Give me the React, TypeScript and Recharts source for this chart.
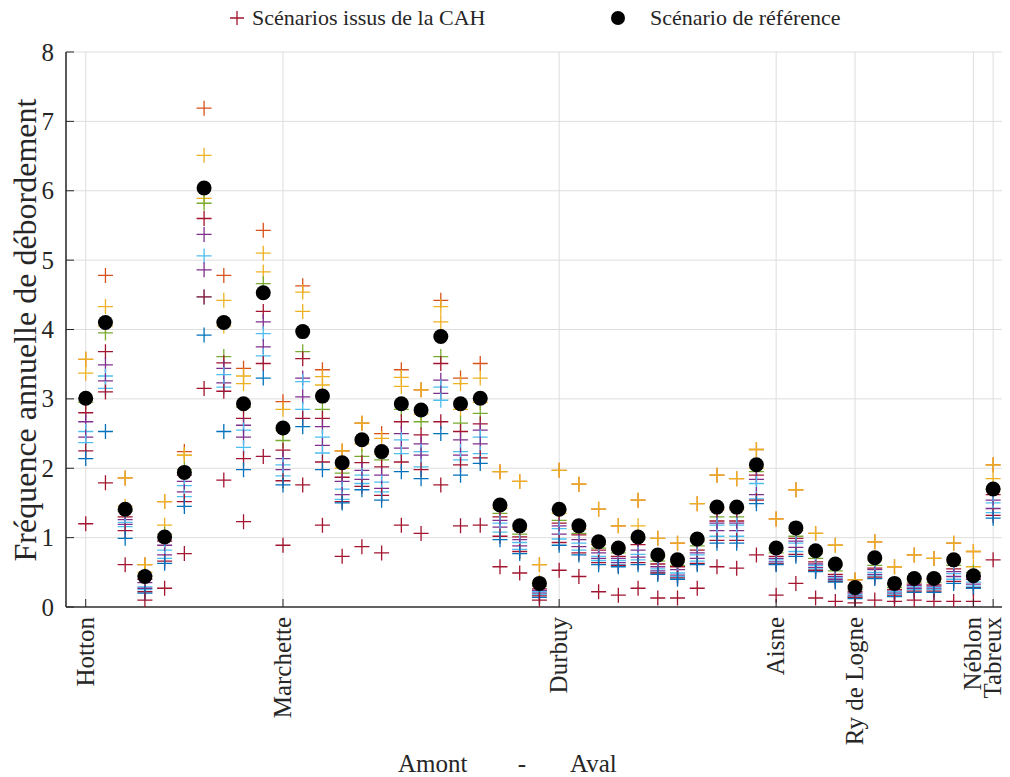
import { CartesianGrid, Scatter, ScatterChart, XAxis, YAxis } from "recharts"

const FONT = "'Liberation Serif', 'Times New Roman', serif"
const INK = "#262626"

// stations along the river, upstream -> downstream
const tickPositions = [1, 11, 25, 36, 40, 46, 47]
const tickLabels = ["Hotton", "Marchette", "Durbuy", "Aisne", "Ry de Logne", "Néblon", "Tabreux"]
const yTicks = [0, 1, 2, 3, 4, 5, 6, 7, 8]

// reference scenario (black dots)
const reference = [
  3.01, 4.10, 1.41, 0.44, 1.01, 1.94, 6.04, 4.10, 2.93, 4.53, 2.58, 3.97, 3.04, 2.08, 2.41, 2.24,
  2.93, 2.84, 3.90, 2.93, 3.01, 1.47, 1.17, 0.34, 1.41, 1.17, 0.94, 0.85, 1.01, 0.75, 0.68, 0.98,
  1.44, 1.44, 2.05, 0.85, 1.14, 0.81, 0.62, 0.28, 0.71, 0.34, 0.41, 0.41, 0.68, 0.45, 1.70,
]

// CAH scenarios (crosses)
const cah01 = [
  3.57, 4.78, 1.86, 0.61, 1.52, 2.24, 7.19, 4.78, 3.44, 5.43, 2.96, 4.63, 3.42, 2.25, 2.65, 2.50,
  3.42, 3.13, 4.42, 3.30, 3.51, 1.95, 1.81, 0.61, 1.97, 1.77, 1.41, 1.17, 1.54, 0.99, 0.92, 1.49,
  1.90, 1.85, 2.27, 1.27, 1.69, 1.06, 0.89, 0.39, 0.94, 0.58, 0.75, 0.70, 0.92, 0.80, 2.05,
]
const cah02 = [
  3.57, 4.33, 1.86, 0.61, 1.52, 2.19, 6.51, 4.42, 3.33, 5.10, 2.85, 4.54, 3.32, 2.25, 2.65, 2.43,
  3.31, 3.13, 4.33, 3.22, 3.30, 1.95, 1.81, 0.61, 1.97, 1.77, 1.41, 1.17, 1.54, 0.99, 0.92, 1.49,
  1.90, 1.85, 2.27, 1.27, 1.69, 1.06, 0.89, 0.39, 0.94, 0.58, 0.75, 0.70, 0.92, 0.80, 2.05,
]
const cah03 = [
  3.37, 4.05, 1.45, 0.50, 1.18, 2.19, 5.89, 4.05, 3.22, 4.83, 2.55, 4.26, 3.20, 2.00, 2.35, 2.20,
  3.18, 2.78, 4.11, 2.85, 2.95, 1.42, 1.12, 0.36, 1.35, 1.12, 0.90, 0.82, 1.17, 0.72, 0.65, 0.95,
  1.40, 1.40, 2.00, 0.82, 1.10, 0.78, 0.60, 0.30, 0.68, 0.33, 0.40, 0.40, 0.66, 0.58, 1.85,
]
const cah04 = [
  2.95, 3.95, 1.38, 0.45, 1.05, 1.98, 5.82, 3.61, 2.88, 4.66, 2.40, 3.68, 2.85, 1.93, 2.17, 2.12,
  2.85, 2.67, 3.61, 2.65, 2.79, 1.35, 1.05, 0.30, 1.25, 1.06, 0.85, 0.78, 0.98, 0.66, 0.60, 0.88,
  1.30, 1.30, 1.95, 0.78, 1.02, 0.70, 0.52, 0.25, 0.60, 0.28, 0.36, 0.35, 0.60, 0.50, 1.70,
]
const cah05 = [
  2.80, 3.68, 1.30, 0.40, 0.95, 1.90, 5.60, 3.52, 2.72, 4.26, 2.26, 3.58, 2.72, 1.87, 2.08, 2.02,
  2.67, 2.48, 3.51, 2.53, 2.64, 1.30, 1.01, 0.26, 1.21, 1.04, 0.82, 0.73, 0.90, 0.62, 0.58, 0.82,
  1.24, 1.24, 1.90, 0.73, 0.99, 0.65, 0.47, 0.22, 0.56, 0.25, 0.33, 0.32, 0.55, 0.44, 1.62,
]
const cah06 = [
  2.67, 3.49, 1.26, 0.35, 0.89, 1.81, 5.37, 3.44, 2.62, 4.11, 2.14, 3.30, 2.60, 1.81, 1.97, 1.90,
  2.50, 2.35, 3.27, 2.41, 2.55, 1.25, 0.97, 0.24, 1.17, 0.97, 0.78, 0.70, 0.82, 0.58, 0.54, 0.78,
  1.21, 1.21, 1.84, 0.70, 0.95, 0.62, 0.44, 0.20, 0.54, 0.23, 0.31, 0.30, 0.51, 0.40, 1.54,
]
const cah07 = [
  2.53, 3.33, 1.22, 0.29, 0.82, 1.75, 5.06, 3.35, 2.55, 3.94, 2.05, 3.25, 2.45, 1.70, 1.90, 1.80,
  2.41, 2.24, 3.17, 2.24, 2.45, 1.21, 0.93, 0.22, 1.13, 0.92, 0.73, 0.67, 0.76, 0.55, 0.49, 0.75,
  1.18, 1.18, 1.78, 0.68, 0.92, 0.60, 0.42, 0.18, 0.50, 0.22, 0.29, 0.28, 0.48, 0.36, 1.50,
]
const cah08 = [
  2.45, 3.26, 1.19, 0.27, 0.75, 1.66, 4.86, 3.23, 2.45, 3.75, 1.98, 3.03, 2.33, 1.62, 1.84, 1.71,
  2.29, 2.19, 3.08, 2.19, 2.35, 1.15, 0.88, 0.20, 1.05, 0.87, 0.70, 0.64, 0.72, 0.52, 0.46, 0.70,
  1.10, 1.10, 1.62, 0.65, 0.86, 0.57, 0.40, 0.16, 0.47, 0.20, 0.27, 0.26, 0.44, 0.33, 1.42,
]
const cah09 = [
  2.37, 3.15, 1.16, 0.25, 0.70, 1.59, 4.47, 3.17, 2.30, 3.62, 1.89, 2.85, 2.22, 1.55, 1.78, 1.66,
  2.21, 2.02, 2.98, 2.12, 2.21, 1.08, 0.83, 0.18, 0.98, 0.82, 0.67, 0.61, 0.68, 0.50, 0.44, 0.66,
  1.02, 1.02, 1.56, 0.63, 0.80, 0.55, 0.38, 0.15, 0.45, 0.18, 0.25, 0.25, 0.40, 0.30, 1.36,
]
const cah10 = [
  2.25, 3.10, 1.10, 0.22, 0.66, 1.52, 4.47, 3.11, 2.14, 3.51, 1.82, 2.72, 2.09, 1.52, 1.74, 1.61,
  2.09, 1.98, 2.67, 2.05, 2.15, 1.02, 0.80, 0.16, 0.93, 0.78, 0.64, 0.60, 0.64, 0.49, 0.42, 0.63,
  0.96, 0.96, 1.54, 0.62, 0.76, 0.53, 0.37, 0.14, 0.43, 0.16, 0.23, 0.23, 0.37, 0.28, 1.32,
]
const cah11 = [
  2.14, 2.53, 0.99, 0.20, 0.63, 1.45, 3.92, 2.53, 1.98, 3.30, 1.76, 2.60, 1.98, 1.50, 1.69, 1.54,
  1.95, 1.85, 2.50, 1.90, 2.07, 0.97, 0.77, 0.14, 0.89, 0.75, 0.61, 0.58, 0.61, 0.47, 0.40, 0.61,
  0.92, 0.92, 1.49, 0.61, 0.73, 0.51, 0.36, 0.12, 0.41, 0.15, 0.21, 0.21, 0.34, 0.27, 1.28,
]
const cah12 = [
  1.20, 1.79, 0.61, 0.10, 0.27, 0.77, 3.15, 1.83, 1.23, 2.17, 0.89, 1.76, 1.18, 0.73, 0.87, 0.78,
  1.18, 1.06, 1.76, 1.17, 1.18, 0.58, 0.49, 0.10, 0.53, 0.44, 0.22, 0.17, 0.27, 0.13, 0.13, 0.27,
  0.58, 0.56, 0.75, 0.17, 0.34, 0.13, 0.08, 0.06, 0.10, 0.08, 0.10, 0.08, 0.08, 0.08, 0.68,
]

const cahSeries = [cah01, cah02, cah03, cah04, cah05, cah06, cah07, cah08, cah09, cah10, cah11, cah12]
const cahColors = [
  "#D95319", "#EDB120", "#EDB120", "#77AC30", "#A2142F", "#7E2F8E",
  "#4DBEEE", "#7E2F8E", "#4DBEEE", "#A2142F", "#0072BD", "#A2142F",
]

const toPoints = (values: number[]) => values.map((y, i) => ({ x: i + 1, y }))

function Cross({ cx, cy, color }: any) {
  if (cx == null || cy == null) return null
  const h = 7.5
  return (
    <path
      d={`M${cx - h},${cy}H${cx + h}M${cx},${cy - h}V${cy + h}`}
      stroke={color}
      strokeWidth={1.3}
      fill="none"
    />
  )
}

function RefDot({ cx, cy }: any) {
  if (cx == null || cy == null) return null
  return <circle cx={cx} cy={cy} r={7.5} fill="#000" />
}

function BottomTick({ x, y, payload }: any) {
  const label = tickLabels[tickPositions.indexOf(payload.value)]
  return (
    <g>
      <line x1={x} x2={x} y1={y} y2={y - 8} stroke={INK} strokeWidth={1} />
      <text
        transform={`translate(${x + 8},${y + 10}) rotate(-90)`}
        textAnchor="end"
        fontFamily={FONT}
        fontSize={25}
        fill={INK}
      >
        {label}
      </text>
    </g>
  )
}

function TopTick({ x, y }: any) {
  return <line x1={x} x2={x} y1={y} y2={y + 8} stroke={INK} strokeWidth={1} />
}

function LeftTick({ x, y, payload }: any) {
  return (
    <g>
      <line x1={x} x2={x + 8} y1={y} y2={y} stroke={INK} strokeWidth={1} />
      <text
        x={x - 12}
        y={y}
        dy="0.34em"
        textAnchor="end"
        fontFamily={FONT}
        fontSize={25}
        fill={INK}
      >
        {payload.value}
      </text>
    </g>
  )
}

function RightTick({ x, y }: any) {
  return <line x1={x} x2={x - 8} y1={y} y2={y} stroke={INK} strokeWidth={1} />
}

function YTitle() {
  return (
    <text
      transform="translate(28,322) rotate(-90)"
      textAnchor="middle"
      fontFamily={FONT}
      fontSize={32}
      fill={INK}
    >
      Fréquence annuelle de débordement
    </text>
  )
}

function XTitle() {
  return (
    <g fontFamily={FONT} fontSize={25} fill={INK}>
      <text x={390} y={764}>Amont</text>
      <text x={514} y={764} textAnchor="middle">-</text>
      <text x={562} y={764}>Aval</text>
    </g>
  )
}

function LegendBar() {
  return (
    <svg
      width={1002}
      height={46}
      style={{ position: "absolute", left: 0, top: -8, pointerEvents: "none" }}
    >
      <path d="M222,18H236M229,11V25" stroke="#A2142F" strokeWidth={1.3} fill="none" />
      <text x={244} y={25} fontFamily={FONT} fontSize={22} fill={INK}>
        Scénarios issus de la CAH
      </text>
      <circle cx={610} cy={18} r={7} fill="#000" />
      <text x={642} y={25} fontFamily={FONT} fontSize={22} fill={INK}>
        Scénario de référence
      </text>
    </svg>
  )
}

export default function App() {
  return (
    <div style={{ position: "relative", width: 1002, height: 769, background: "#fff" }}>
      <ScatterChart width={1002} height={769} margin={{ top: 44, right: 7, bottom: 0, left: 0 }}>
        <CartesianGrid stroke="#dedede" strokeWidth={1} />
        <XAxis
          type="number"
          dataKey="x"
          domain={[0, 47.5]}
          ticks={tickPositions}
          interval={0}
          allowDataOverflow
          height={170}
          tickSize={0}
          tickMargin={0}
          tickLine={false}
          tick={<BottomTick />}
          axisLine={{ stroke: "#333", strokeWidth: 1.6 }}
          label={<XTitle />}
        />
        <XAxis
          xAxisId="top"
          orientation="top"
          type="number"
          dataKey="x"
          domain={[0, 47.5]}
          ticks={tickPositions}
          interval={0}
          allowDataOverflow
          height={0}
          tickSize={0}
          tickMargin={0}
          tickLine={false}
          tick={<TopTick />}
          axisLine={{ stroke: "#333", strokeWidth: 1.6 }}
        />
        <YAxis
          type="number"
          dataKey="y"
          domain={[0, 8]}
          ticks={yTicks}
          interval={0}
          allowDataOverflow
          width={58}
          tickSize={0}
          tickMargin={0}
          tickLine={false}
          tick={<LeftTick />}
          axisLine={{ stroke: "#333", strokeWidth: 1.6 }}
          label={<YTitle />}
        />
        <YAxis
          yAxisId="right"
          orientation="right"
          type="number"
          dataKey="y"
          domain={[0, 8]}
          ticks={yTicks}
          interval={0}
          allowDataOverflow
          width={0}
          tickSize={0}
          tickMargin={0}
          tickLine={false}
          tick={<RightTick />}
          axisLine={{ stroke: "#333", strokeWidth: 1.6 }}
        />
        {cahSeries.map((values, i) => (
          <Scatter
            key={`cah-${i}`}
            name="Scénarios issus de la CAH"
            data={toPoints(values)}
            isAnimationActive={false}
            shape={(p: any) => <Cross {...p} color={cahColors[i]} />}
          />
        ))}
        <Scatter
          name="Scénario de référence"
          data={toPoints(reference)}
          isAnimationActive={false}
          shape={(p: any) => <RefDot {...p} />}
        />
      </ScatterChart>
      <LegendBar />
    </div>
  )
}
